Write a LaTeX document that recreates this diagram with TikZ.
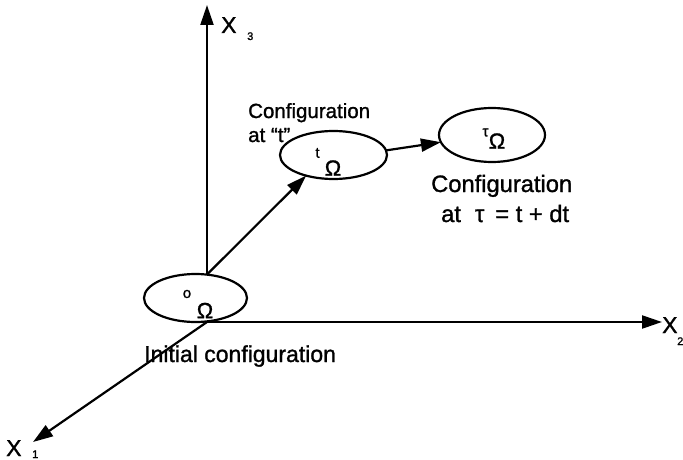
\documentclass[tikz,border=0pt]{standalone}
\usepackage{fontspec}
\setmainfont{Liberation Sans}[FakeBold=1.2]
\usetikzlibrary{shapes.geometric,arrows.meta}
\begin{document}
\begin{tikzpicture}[x=1pt,y=-1pt,
  ln/.style={line width=2.2pt},
  arr/.style={ln,-{Triangle[length=20pt,width=13pt]}},
  ell/.style={draw,ellipse,line width=2.2pt,fill=white,inner sep=0pt,outer sep=0pt},
  txt/.style={inner sep=0pt,font=\fontsize{23}{23}\selectfont},
  bigtxt/.style={inner sep=0pt,font=\fontsize{23.7}{23.7}\selectfont},
  midtxt/.style={inner sep=0pt,font=\fontsize{20.5}{20.5}\selectfont},
  omg/.style={inner sep=0pt,font=\fontsize{22}{22}\selectfont},
  sup/.style={inner sep=0pt,font=\fontsize{15}{15}\selectfont},
  sub/.style={inner sep=0pt,font=\fontsize{11}{11}\selectfont}]
\useasboundingbox (0,0) rectangle (683,460);
% axes
\coordinate (O) at (207,322);
\coordinate (t3) at (207,5);
\coordinate (t2) at (662,322);
\coordinate (t1) at (33,442);
\draw[arr] (O) -- (t3);
\draw[arr] (O) -- (t2);
\draw[arr] (O) -- (t1);
% ellipses
\node[ell,minimum width=103pt,minimum height=48pt] (e0) at (195.5,298) {};
\node[ell,minimum width=107pt,minimum height=48pt] (et) at (333.5,155) {};
\node[ell,minimum width=106pt,minimum height=54pt] (etau) at (492,135) {};
% contents
\node[omg] (om0) at (205,310.5) {Ω};
\node[sup] (s0) at (187,294) {o};
\node[omg] (omt) at (333,168) {Ω};
\node[sup] (st) at (317.5,153) {t};
\node[omg] (omtau) at (497,141) {Ω};
\node[sup] (stau) at (485.5,132.5) {τ};
% connectors
\draw[arr] (e0.64) -- (et.217);
\draw[arr] (et.5) -- (etau.188);
% texts
\node[midtxt,anchor=base west] (c1) at (248,118) {Configuration};
\node[midtxt,anchor=base west] (c1b) at (248,142) {at “t”};
\node[bigtxt,anchor=base west] (c2) at (431,192) {Configuration};
\node[bigtxt,anchor=base west] (c2b) at (441,222) {at\hspace{14pt}τ\hspace{11pt}= t + dt};
\node[txt,anchor=base west] (ini) at (144,362) {Initial configuration};
% axis labels
\node[txt,anchor=base west] (x3) at (221,33) {X};
\node[sub,anchor=base west] (x3s) at (247,40) {3};
\node[txt,anchor=base west] (x2) at (662,333) {X};
\node[sub,anchor=base west] (x2s) at (677,345) {2};
\node[txt,anchor=base west] (x1) at (6,456) {X};
\node[sub,anchor=base west] (x1s) at (32,458) {1};
\end{tikzpicture}
\end{document}
